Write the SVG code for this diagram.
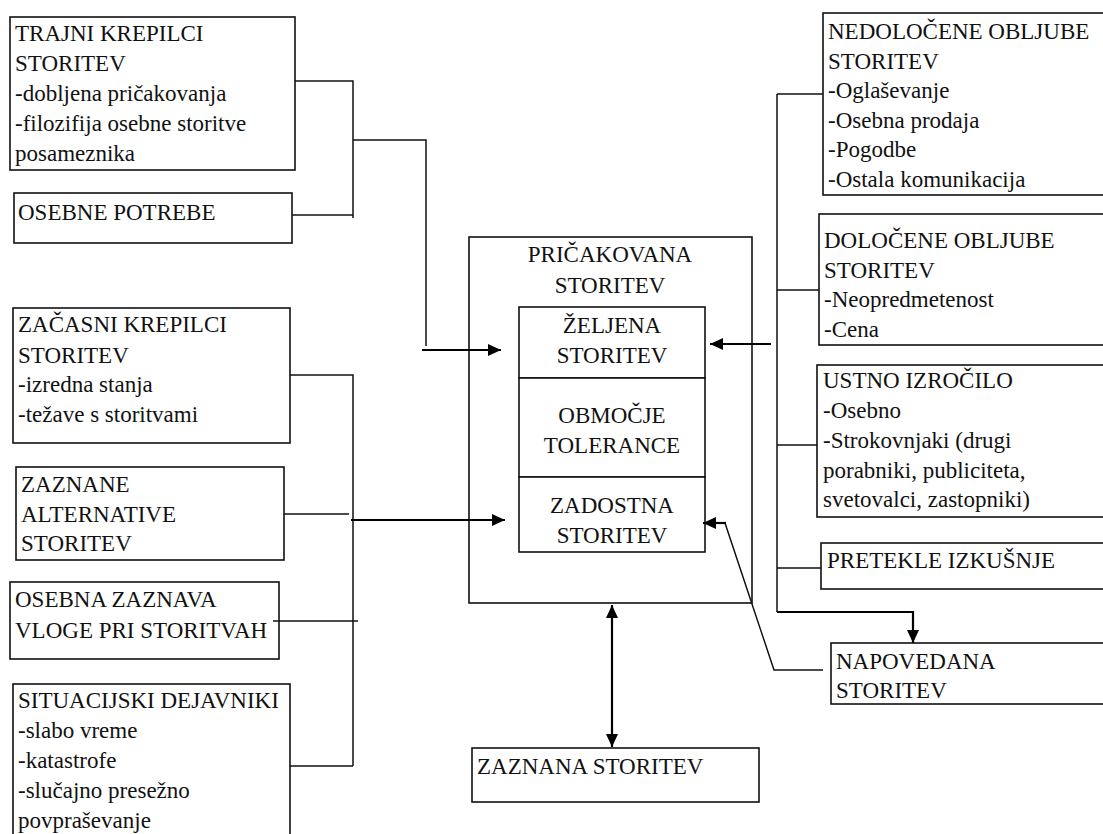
<svg xmlns="http://www.w3.org/2000/svg" width="1103" height="834" viewBox="0 0 1103 834">
<style>
.box{fill:#fff;stroke:#111;stroke-width:1.6}
.ln{fill:none;stroke:#111;stroke-width:1.5}
.ar{fill:none;stroke:#000;stroke-width:2.2}
.t{font-family:'Times New Roman','Liberation Serif',Tinos,serif;font-size:23px;fill:#111}
.c{text-anchor:middle}
</style>
<defs>
<marker id="ah" markerUnits="userSpaceOnUse" markerWidth="14" markerHeight="14" viewBox="0 0 14 14" refX="13" refY="7" orient="auto-start-reverse">
<path d="M0,1 L13,7 L0,13 Z" fill="#000"/>
</marker>
</defs>
<rect width="1103" height="834" fill="#fff"/>

<g id="trajni"><rect class="box" x="10" y="17" width="285" height="153"/>
<text class="t" x="15" y="41">TRAJNI KREPILCI</text><text class="t" x="15" y="71">STORITEV</text><text class="t" x="15" y="101">-dobljena pričakovanja</text><text class="t" x="15" y="131">-filozifija osebne storitve</text><text class="t" x="15" y="161">posameznika</text></g>

<g id="osebne-potrebe"><rect class="box" x="14" y="193" width="278" height="50"/>
<text class="t" x="18" y="220">OSEBNE POTREBE</text></g>

<g id="zacasni"><rect class="box" x="13" y="308" width="277" height="135"/>
<text class="t" x="18" y="332">ZAČASNI KREPILCI</text><text class="t" x="18" y="363">STORITEV</text><text class="t" x="18" y="392">-izredna stanja</text><text class="t" x="18" y="422">-težave s storitvami</text></g>

<g id="zaznane"><rect class="box" x="16" y="467" width="268" height="93"/>
<text class="t" x="21" y="492">ZAZNANE</text><text class="t" x="21" y="522">ALTERNATIVE</text><text class="t" x="21" y="551">STORITEV</text></g>

<g id="osebna-zaznava"><rect class="box" x="10" y="582" width="269" height="77"/>
<text class="t" x="15" y="607">OSEBNA ZAZNAVA</text><text class="t" x="15" y="638">VLOGE PRI STORITVAH</text></g>

<g id="situacijski"><rect class="box" x="13" y="684" width="277" height="170"/>
<text class="t" x="18" y="708">SITUACIJSKI DEJAVNIKI</text><text class="t" x="18" y="738">-slabo vreme</text><text class="t" x="18" y="768">-katastrofe</text><text class="t" x="18" y="798">-slučajno presežno</text><text class="t" x="18" y="828">povpraševanje</text></g>

<g id="pricakovana"><rect class="box" x="469" y="237" width="283" height="366"/>
<text class="t c" x="610" y="262">PRIČAKOVANA</text><text class="t c" x="610" y="293">STORITEV</text></g>

<g id="zeljena"><rect class="box" x="519" y="307" width="186" height="71"/>
<text class="t c" x="612" y="333">ŽELJENA</text><text class="t c" x="612" y="363">STORITEV</text></g>

<g id="obmocje"><rect class="box" x="519" y="378" width="186" height="99"/>
<text class="t c" x="612" y="423">OBMOČJE</text><text class="t c" x="612" y="453">TOLERANCE</text></g>

<g id="zadostna"><rect class="box" x="519" y="477" width="186" height="75"/>
<text class="t c" x="612" y="513">ZADOSTNA</text><text class="t c" x="612" y="543">STORITEV</text></g>

<g id="zaznana"><rect class="box" x="472" y="748" width="287" height="54"/>
<text class="t" x="477" y="774">ZAZNANA STORITEV</text></g>

<g id="nedolocene"><rect class="box" x="823" y="13" width="300" height="182"/>
<text class="t" x="828" y="39">NEDOLOČENE OBLJUBE</text><text class="t" x="828" y="69">STORITEV</text><text class="t" x="828" y="98">-Oglaševanje</text><text class="t" x="828" y="128">-Osebna prodaja</text><text class="t" x="828" y="157">-Pogodbe</text><text class="t" x="828" y="187">-Ostala komunikacija</text></g>

<g id="dolocene"><rect class="box" x="819" y="214" width="300" height="131"/>
<text class="t" x="824" y="248">DOLOČENE OBLJUBE</text><text class="t" x="824" y="278">STORITEV</text><text class="t" x="824" y="307">-Neopredmetenost</text><text class="t" x="824" y="337">-Cena</text></g>

<g id="ustno"><rect class="box" x="817" y="365" width="300" height="152"/>
<text class="t" x="823" y="388">USTNO IZROČILO</text><text class="t" x="823" y="418">-Osebno</text><text class="t" x="823" y="448">-Strokovnjaki (drugi</text><text class="t" x="823" y="478">porabniki, publiciteta,</text><text class="t" x="823" y="507">svetovalci, zastopniki)</text></g>

<g id="pretekle"><rect class="box" x="821" y="543" width="300" height="46"/>
<text class="t" x="827" y="568">PRETEKLE IZKUŠNJE</text></g>

<g id="napovedana"><rect class="box" x="831" y="643" width="300" height="61"/>
<text class="t" x="836" y="669">NAPOVEDANA</text><text class="t" x="836" y="698">STORITEV</text></g>

<g id="connectors">
<path class="ln" d="M295,81 H353 V218 M292,215 H353 M353,140 H426 V346"/>
<path class="ar" d="M422,350 H501" marker-end="url(#ah)"/>
<path class="ln" d="M290,375 H353 V766 M290,766 H353 M284,514 H349 M273,621 H358"/>
<path class="ar" d="M351,520 H505" marker-end="url(#ah)"/>
<path class="ln" d="M777,94 V612 M777,94 H823 M777,290 H819 M777,445 H817 M777,568 H821"/>
<path class="ar" d="M777,612 H913 V643" marker-end="url(#ah)"/>
<path class="ar" d="M771,344 H710" marker-end="url(#ah)"/>
<path class="ln" d="M823,670 H774 L725,523 H716"/>
<path class="ar" d="M726,523 H703" marker-end="url(#ah)"/>
<path class="ar" d="M612,605 V747" marker-start="url(#ah)" marker-end="url(#ah)"/>
</g>
</svg>
